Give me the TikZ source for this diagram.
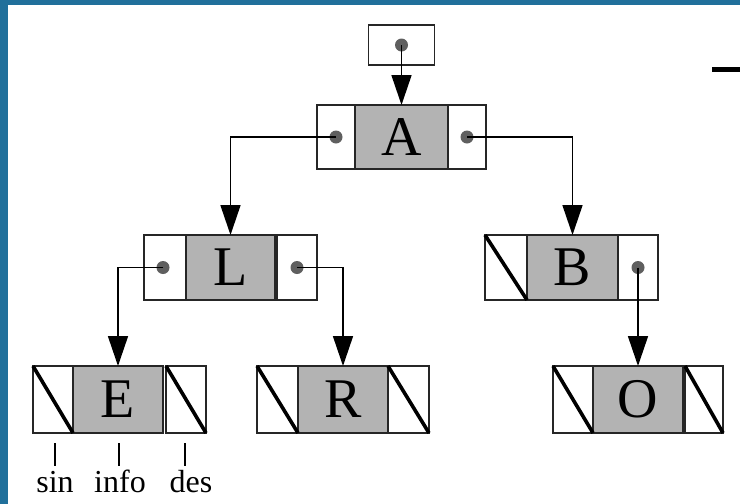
\documentclass[tikz,border=0pt]{standalone}
\usepackage{fontspec}
\setmainfont{Liberation Serif}
\usetikzlibrary{arrows.meta,calc}
\definecolor{slideblue}{RGB}{33,112,155}
\definecolor{cellgray}{RGB}{179,179,179}
\definecolor{dotgray}{RGB}{95,95,95}
\tikzset{
  cell/.style={draw=black!85, line width=1.5pt, minimum height=65pt, minimum width=40pt, inner sep=0pt, outer sep=0pt},
  infocell/.style={cell, fill=cellgray, minimum width=90pt, font=\fontsize{56}{60}\selectfont},
  nullmark/.style={line width=3.6pt},
  ptr/.style={line width=1.6pt, -{Triangle[length=30pt,width=20pt]}},
  ptrdot/.style={circle, fill=dotgray, inner sep=0pt, minimum size=13pt},
  lbl/.style={font=\fontsize{32}{36}\selectfont, anchor=base, inner sep=0pt},
  tickline/.style={line width=1.1pt},
}
\begin{document}
\begin{tikzpicture}[x=1pt,y=-1pt]
\useasboundingbox (0,0) rectangle (740,504);
\fill[white] (0,0) rectangle (740,504);
\fill[slideblue] (0,0) rectangle (740,5);
\fill[slideblue] (0,0) rectangle (8,504);
% pointer root
\node[cell, minimum width=66pt, minimum height=40pt] (root) at (401.5,45) {};
% A
\node[cell, minimum width=38pt, minimum height=64pt] (A-l) at (336,137) {};
\node[cell, minimum width=38pt, minimum height=64pt] (A-r) at (467,137) {};
\node[infocell, minimum width=93pt, minimum height=64pt] (A) at (401.5,137) {A};
% L
\node[cell, minimum width=42pt] (L-l) at (165,267.5) {};
\node[cell, minimum width=40pt] (L-r) at (297,267.5) {};
\node[infocell, minimum width=89pt] (L) at (230.5,267.5) {L};
% B
\node[cell, minimum width=42pt] (B-l) at (506,267.5) {};
\node[cell, minimum width=40pt] (B-r) at (638,267.5) {};
\node[infocell, minimum width=91pt] (B) at (572.5,267.5) {B};
% E
\node[cell, minimum height=67pt] (E-l) at (53,399.5) {};
\node[cell, minimum height=67pt] (E-r) at (186,399.5) {};
\node[infocell, minimum height=67pt] (E) at (118,399.5) {E};
% R
\node[cell, minimum width=41pt, minimum height=67pt] (R-l) at (277.5,399.5) {};
\node[cell, minimum width=41pt, minimum height=67pt] (R-r) at (408.5,399.5) {};
\node[infocell, minimum height=67pt] (R) at (343,399.5) {R};
% O
\node[cell, minimum height=67pt] (O-l) at (573,399.5) {};
\node[cell, minimum width=38pt, minimum height=67pt] (O-r) at (704,399.5) {};
\node[infocell, minimum width=90pt, minimum height=67pt] (O) at (638,399.5) {O};
% null pointers
\foreach \c in {B-l,E-l,E-r,R-l,R-r,O-l,O-r}
  \draw[nullmark] (\c.north west) -- (\c.south east);
% pointer dots
\node[ptrdot] (d-root) at (root) {};
\node[ptrdot] (d-Al) at (A-l) {};
\node[ptrdot] (d-Ar) at (A-r) {};
\node[ptrdot] (d-Ll) at ($(L-l)+(-2,0)$) {};
\node[ptrdot] (d-Lr) at (L-r) {};
\node[ptrdot] (d-Br) at (B-r) {};
% pointers
\draw[ptr] (d-root.center) -- (A.north);
\draw[ptr] (d-Al.center) -| (L.north);
\draw[ptr] (d-Ar.center) -| (B.north);
\draw[ptr] (d-Ll.center) -| (E.north);
\draw[ptr] (d-Lr.center) -| (R.north);
\draw[ptr] (d-Br.center) -- (O.north);
% labels
\node[lbl] (sin) at (55,492) {sin};
\node[lbl] (info) at (120,492) {info};
\node[lbl] (des) at (191,492) {des};
\draw[tickline] ($(sin.base |- E-l.south)+(0,10)$) -- ++(0,23);
\draw[tickline] ($(info.base |- E.south)+(-1,10)$) -- ++(0,23);
\draw[tickline] ($(des.base |- E-r.south)+(-6,10)$) -- ++(0,23);
% dash at right
\fill (712,67) rectangle (740,71.5);
\end{tikzpicture}
\end{document}
